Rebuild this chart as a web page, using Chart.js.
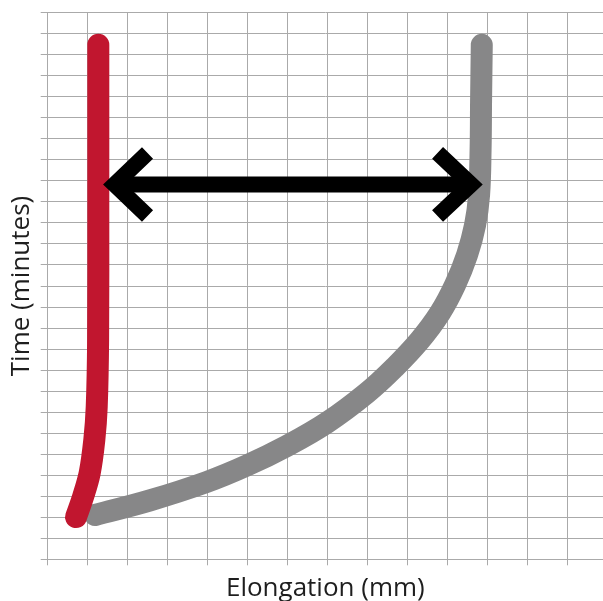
<!DOCTYPE html>
<html>
<head>
<meta charset="utf-8">
<script src="https://cdn.jsdelivr.net/npm/chart.js@4/dist/chart.umd.min.js"></script>
<style>
  html, body { margin: 0; padding: 0; background: #ffffff; }
  #wrap { width: 603px; height: 601px; position: relative; }
</style>
</head>
<body>
<div id="wrap"><canvas id="c"></canvas></div>
<script>
// Axis titles
const xTitle = "Elongation (mm)";
const yTitle = "Time (minutes)";

// Axis ranges (grid units, no tick labels shown)
const xMin = 0, xMax = 13.88, xStep = 1;
const yMin = 0, yMax = 26, yStep = 1;

// Red series (left, vertical curve)
const redX = [1.265, 1.265, 1.26, 1.225, 1.165, 1.05, 0.8825, 0.7075];
const redY = [24.47, 17.1, 10.43, 7.245, 5.675, 4.105, 2.963, 2.01];

// Gray series (right, rising curve)
const grayX = [10.85, 10.8325, 10.82, 10.7825, 10.6825, 10.4825, 10.1825, 9.8075, 9.3075, 8.6825, 7.975, 6.975, 5.975, 4.975, 3.975, 2.5575, 1.1825];
const grayY = [24.47, 21.85, 19.47, 17.33, 15.90, 14.48, 13.05, 11.72, 10.43, 9.15, 7.91, 6.494, 5.39, 4.458, 3.677, 2.802, 2.107];

// Double arrow (shaft and two chevron heads)
const shaftX = [1.6725, 10.5825];
const shaftY = [17.83, 17.83];
const leftHeadX = [2.495, 1.6725, 2.495];
const leftHeadY = [19.33, 17.83, 16.33];
const rightHeadX = [9.745, 10.5825, 9.745];
const rightHeadY = [19.33, 17.83, 16.33];

function pts(xs, ys) { return xs.map((x, i) => ({ x: x, y: ys[i] })); }

const gridColor = '#aaaaaa';
const textColor = '#1e1e1e';

new Chart(document.getElementById('c'), {
  type: 'scatter',
  data: {
    datasets: [
      { data: pts(shaftX, shaftY), showLine: true, borderColor: '#000', borderWidth: 16,
        borderCapStyle: 'butt', pointRadius: 0, tension: 0, order: 0 },
      { data: pts(leftHeadX, leftHeadY), showLine: true, borderColor: '#000', borderWidth: 16,
        borderCapStyle: 'butt', borderJoinStyle: 'miter', pointRadius: 0, tension: 0, order: 0 },
      { data: pts(rightHeadX, rightHeadY), showLine: true, borderColor: '#000', borderWidth: 16,
        borderCapStyle: 'butt', borderJoinStyle: 'miter', pointRadius: 0, tension: 0, order: 0 },
      { data: pts(redX, redY), showLine: true, borderColor: '#c1162f', borderWidth: 22,
        borderCapStyle: 'round', borderJoinStyle: 'round', pointRadius: 0, tension: 0.35, order: 1 },
      { data: pts(grayX, grayY), showLine: true, borderColor: '#878788', borderWidth: 22,
        borderCapStyle: 'round', borderJoinStyle: 'round', pointRadius: 0, tension: 0.4, order: 2 }
    ]
  },
  options: {
    responsive: true,
    maintainAspectRatio: false,
    animation: false,
    events: [],
    layout: { padding: { top: 12.7, left: 1.5, right: 0, bottom: -3.5 } },
    plugins: { legend: { display: false }, tooltip: { enabled: false } },
    scales: {
      x: {
        type: 'linear', min: xMin, max: xMax,
        ticks: { display: false, stepSize: xStep, includeBounds: false },
        grid: { color: gridColor, lineWidth: 1, tickLength: 6, drawTicks: true },
        border: { color: gridColor },
        title: { display: true, text: xTitle, color: textColor,
                 font: { family: '"Open Sans"', size: 26 }, padding: { top: 8, bottom: 0 } }
      },
      y: {
        type: 'linear', min: yMin, max: yMax,
        ticks: { display: false, stepSize: yStep, includeBounds: false },
        grid: { color: gridColor, lineWidth: 1, tickLength: 7, drawTicks: true },
        border: { color: gridColor },
        title: { display: true, text: yTitle, color: textColor,
                 font: { family: '"Open Sans"', size: 26 }, padding: { top: 4, bottom: 4 } }
      }
    }
  }
});
</script>
</body>
</html>
